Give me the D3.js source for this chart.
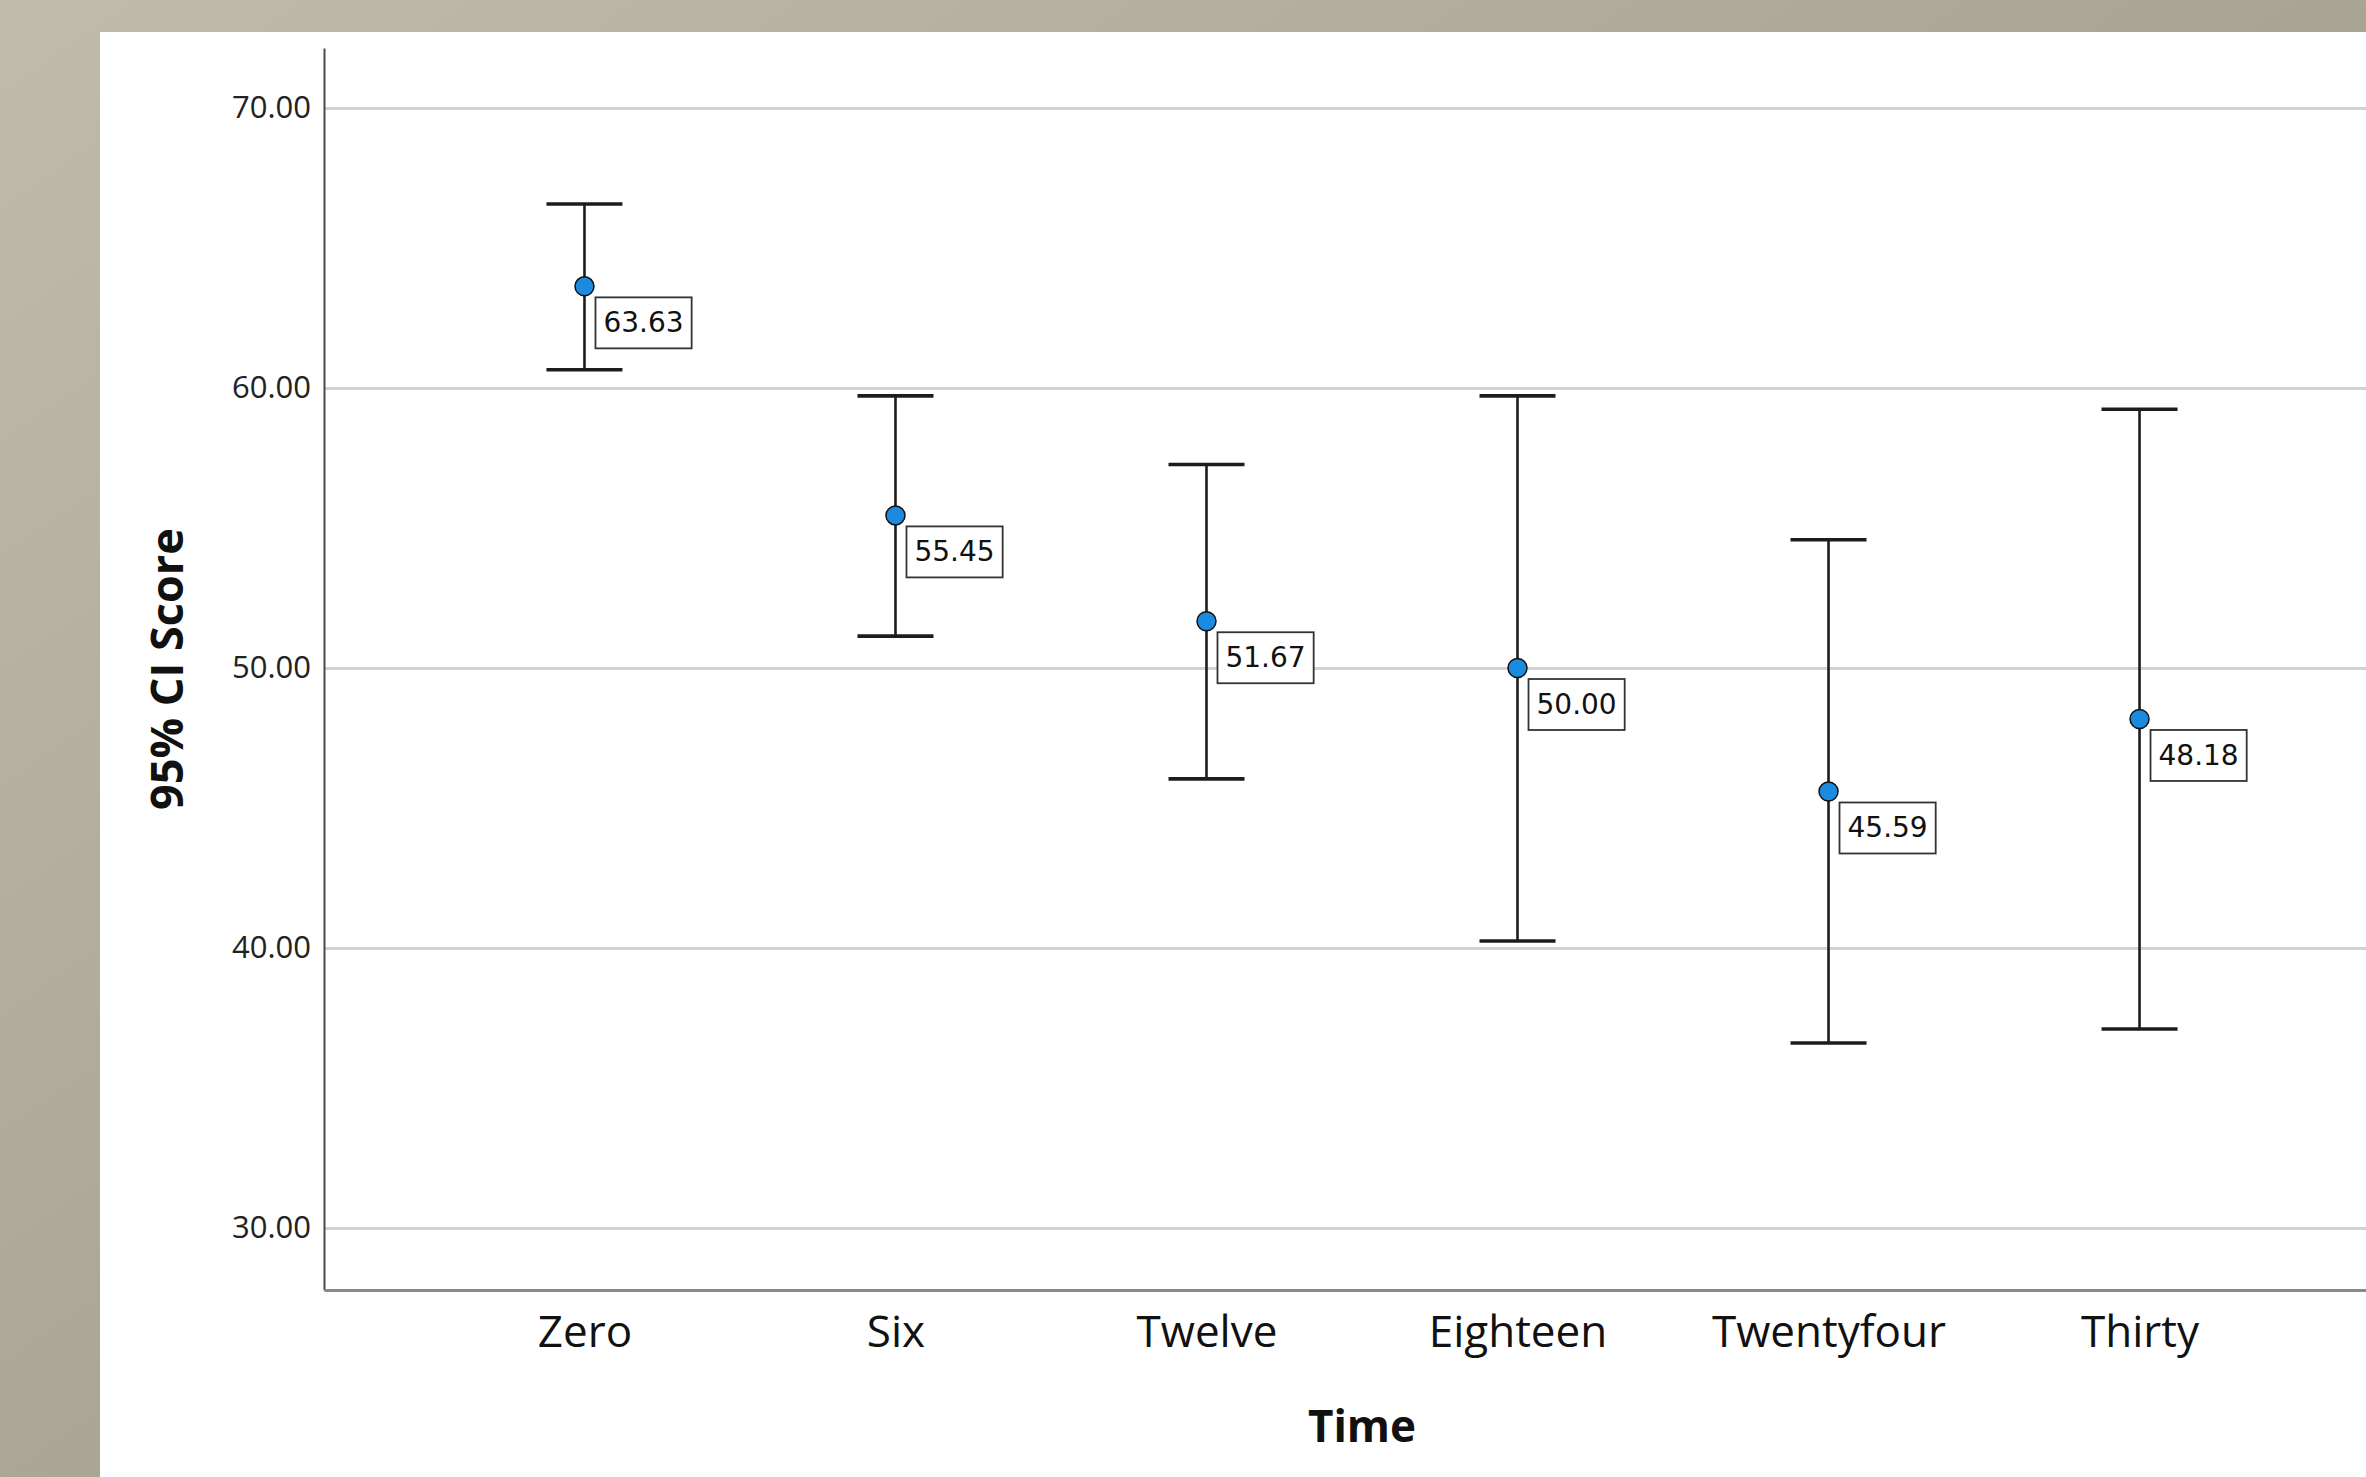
<!DOCTYPE html>
<html>
<head>
<meta charset="utf-8">
<script src="https://cdn.jsdelivr.net/npm/d3@7"></script>
<style>
  html, body { margin: 0; padding: 0; background: #fff; }
  svg { display: block; }
</style>
</head>
<body>
<svg id="chart" width="2366" height="1477"></svg>
<script>
// data
const categories = ["Zero", "Six", "Twelve", "Eighteen", "Twentyfour", "Thirty"];
const means = [63.63, 55.45, 51.67, 50.00, 45.59, 48.18];
const upper = [66.57, 59.72, 57.27, 59.72, 54.58, 59.24];
const lower = [60.65, 51.14, 46.04, 40.25, 36.61, 37.11];
const yTicks = [30, 40, 50, 60, 70];

const width = 2366;
const height = 1477;

const panel = { left: 100, top: 32 };
const plot = { left: 324, right: 2400, top: 48, bottom: 1290 };

const font = "'Open Sans', 'DejaVu Sans', sans-serif";

const svg = d3.select("#chart");

// slide background
const defs = svg.append("defs");
const grad = defs.append("linearGradient")
  .attr("id", "bg")
  .attr("x1", 0).attr("y1", 0)
  .attr("x2", 1).attr("y2", 0.9);
grad.append("stop").attr("offset", 0).attr("stop-color", "#c0bcac");
grad.append("stop").attr("offset", 0.55).attr("stop-color", "#a9a595");
grad.append("stop").attr("offset", 1).attr("stop-color", "#9a9686");

svg.append("rect")
  .attr("width", width)
  .attr("height", height)
  .attr("fill", "url(#bg)");

svg.append("rect")
  .attr("x", panel.left)
  .attr("y", panel.top)
  .attr("width", width - panel.left)
  .attr("height", height - panel.top)
  .attr("fill", "#fff");

const x = d3.scalePoint()
  .domain(categories)
  .range([plot.left, plot.right])
  .padding(0.8375);

const y = d3.scaleLinear()
  .domain([27.786, 72.143])
  .range([plot.bottom, plot.top]);

// gridlines
const grid = d3.axisLeft(y)
  .tickValues(yTicks)
  .tickSize(-(plot.right - plot.left))
  .tickFormat("");

svg.append("g")
  .attr("transform", `translate(${plot.left},0)`)
  .call(grid)
  .call(g => g.select(".domain").remove())
  .call(g => g.selectAll(".tick line")
    .attr("stroke", "#d2d2d2")
    .attr("stroke-width", 3));

// y axis
svg.append("g")
  .attr("transform", `translate(${plot.left},0)`)
  .call(d3.axisLeft(y).tickValues(yTicks).tickSize(0).tickPadding(13).tickFormat(d3.format(".2f")))
  .call(g => g.select(".domain")
    .attr("stroke", "#4a4a4a")
    .attr("stroke-width", 2))
  .call(g => g.selectAll(".tick text")
    .attr("font-family", font)
    .attr("font-size", 31)
    .attr("fill", "#222"));

// x axis
svg.append("g")
  .attr("transform", `translate(0,${plot.bottom})`)
  .call(d3.axisBottom(x).tickSize(0).tickPadding(26))
  .call(g => g.select(".domain")
    .attr("stroke", "#8a8a8a")
    .attr("stroke-width", 3))
  .call(g => g.selectAll(".tick text")
    .attr("font-family", font)
    .attr("font-size", 44)
    .attr("fill", "#111"));

// axis titles
svg.append("text")
  .attr("x", (plot.left + plot.right) / 2)
  .attr("y", 1442)
  .attr("text-anchor", "middle")
  .attr("font-family", font)
  .attr("font-weight", "bold")
  .attr("font-size", 44)
  .attr("fill", "#111")
  .text("Time");

svg.append("text")
  .attr("transform", `translate(183,${(plot.top + plot.bottom) / 2}) rotate(-90)`)
  .attr("text-anchor", "middle")
  .attr("font-family", font)
  .attr("font-weight", "bold")
  .attr("font-size", 45)
  .attr("fill", "#111")
  .text("95% CI Score");

// error bars
const rows = categories.map((c, i) => ({ c, mean: means[i], hi: upper[i], lo: lower[i] }));
const capHalf = 38;

const bars = svg.append("g")
  .selectAll("g")
  .data(rows)
  .enter()
  .append("g");

bars.append("line")
  .attr("x1", d => x(d.c))
  .attr("x2", d => x(d.c))
  .attr("y1", d => y(d.hi))
  .attr("y2", d => y(d.lo))
  .attr("stroke", "#1c1c1c")
  .attr("stroke-width", 2.6);

bars.selectAll(".cap")
  .data(d => [[d.c, d.hi], [d.c, d.lo]])
  .enter()
  .append("line")
  .attr("class", "cap")
  .attr("x1", d => x(d[0]) - capHalf)
  .attr("x2", d => x(d[0]) + capHalf)
  .attr("y1", d => y(d[1]))
  .attr("y2", d => y(d[1]))
  .attr("stroke", "#1c1c1c")
  .attr("stroke-width", 3.6);

bars.append("circle")
  .attr("cx", d => x(d.c))
  .attr("cy", d => y(d.mean))
  .attr("r", 9.5)
  .attr("fill", "#1b8be0")
  .attr("stroke", "#111")
  .attr("stroke-width", 1.5);

// value labels in boxes
bars.each(function (d) {
  const g = d3.select(this);
  const bx = x(d.c) + 11;
  const by = y(d.mean) + 11;
  const t = g.append("text")
    .attr("font-family", "'DejaVu Sans', sans-serif")
    .attr("font-size", 28)
    .attr("fill", "#111")
    .text(d3.format(".2f")(d.mean));
  const w = t.node().getComputedTextLength();
  const bw = w + 16;
  const bh = 51;
  g.insert("rect", "text")
    .attr("x", bx)
    .attr("y", by)
    .attr("width", bw)
    .attr("height", bh)
    .attr("fill", "#fff")
    .attr("stroke", "#333")
    .attr("stroke-width", 1.8);
  t.attr("x", bx + bw / 2)
    .attr("y", by + bh / 2)
    .attr("text-anchor", "middle")
    .attr("dominant-baseline", "central");
});
</script>
</body>
</html>
